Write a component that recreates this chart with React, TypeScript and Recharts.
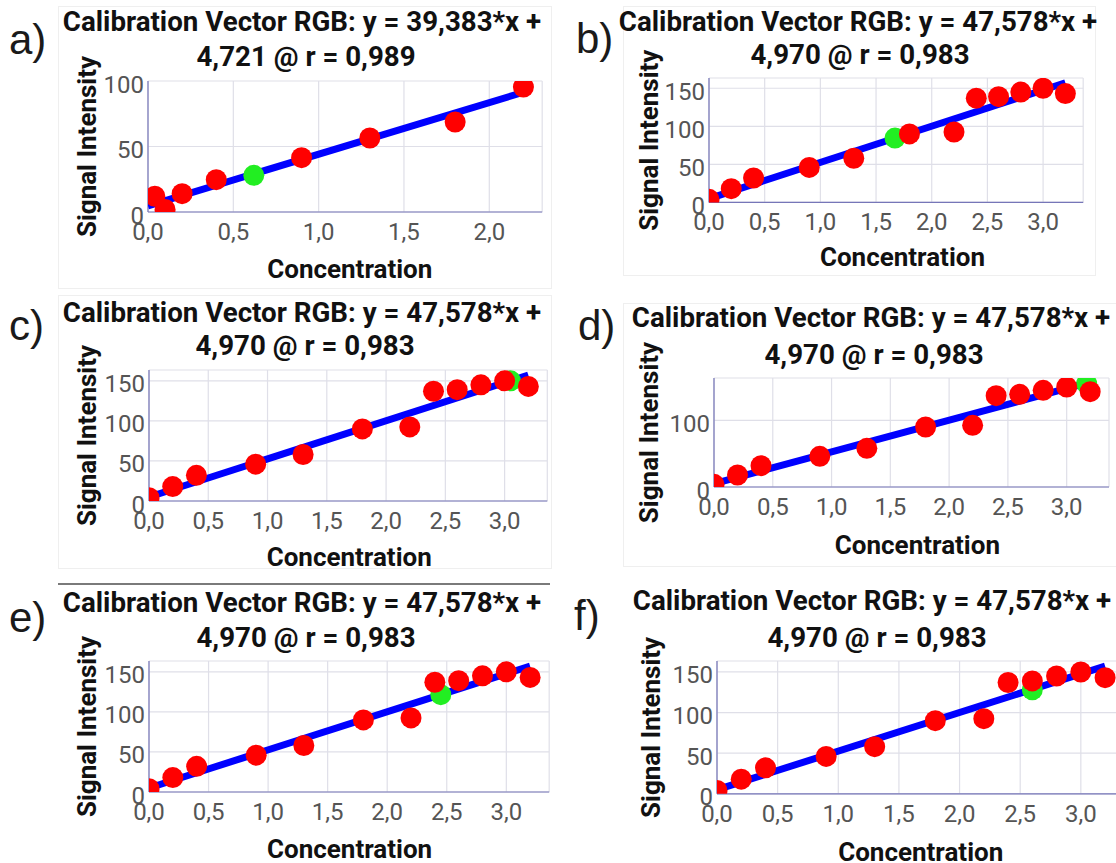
import { ScatterChart, Scatter, XAxis, YAxis, CartesianGrid, Label } from "recharts";

// values
const titleA = ["Calibration Vector RGB: y = 39,383*x +", "4,721 @ r = 0,989"];
const titleRest = ["Calibration Vector RGB: y = 47,578*x +", "4,970 @ r = 0,983"];
const panelLetters = ["a)", "b)", "c)", "d)", "e)", "f)"];

const concA = [0.04, 0.1, 0.2, 0.4, 0.9, 1.3, 1.8, 2.2];
const signalA = [12, 2, 14, 24.7, 41.5, 56.5, 68.7, 95.4];

const conc = [0, 0.2, 0.4, 0.9, 1.3, 1.8, 2.2, 2.4, 2.6, 2.8, 3.0, 3.2];
const signal = [4, 18, 32, 46, 58, 90, 92.5, 137, 139, 145, 150, 143];

// the green (sample) point of each panel, a..f
const greenConc = [0.62, 1.67, 3.05, 3.17, 2.45, 2.6];
const greenSignal = [28, 84.5, 150, 155, 121.5, 128];

// fit line end points
const fitConcA = [0, 2.2];
const fitSignalA = [4.7, 91.4];
const fitConc = [0, 3.2];
const fitSignal = [5.0, 157.2];

const xTicksA = [0, 0.5, 1, 1.5, 2];
const xTicks = [0, 0.5, 1, 1.5, 2, 2.5, 3];
const yTicksA = [0, 50, 100];
const yTicks = [0, 50, 100, 150];
const yTicksD = [0, 100];

const toPoints = (xs: number[], ys: number[]) => xs.map((x, i) => ({ x, y: ys[i] }));

const LAYOUT = [
  { plot: [147.5, 80.7, 394.2, 131], xMax: 2.31, yMax: 100, xt: xTicksA, yt: yTicksA, letter: [9, 54], t1: [302, 30.6], t2: [306, 65.6], yLab: 39.1, xDx: 4.7, xDy: 21.3 },
  { plot: [708.5, 78.3, 374.2, 124.4], xMax: 3.36, yMax: 163.5, xt: xTicks, yt: yTicks, letter: [576, 53.3], t1: [858, 30.7], t2: [860, 64], yLab: 39.9, xDx: 6.4, xDy: 19 },
  { plot: [148.7, 370, 398.3, 131], xMax: 3.36, yMax: 163.5, xt: xTicks, yt: yTicks, letter: [9, 340], t1: [302, 321.7], t2: [305, 355], yLab: 37.9, xDx: 1.1, xDy: 20.7 },
  { plot: [714, 378.3, 395, 109], xMax: 3.36, yMax: 163.5, xt: xTicks, yt: yTicksD, letter: [578, 340], t1: [871, 327.3], t2: [874, 364], yLab: 34.4, xDx: 5.9, xDy: 22.7 },
  { plot: [148.7, 660.7, 400.2, 131], xMax: 3.36, yMax: 163.5, xt: xTicks, yt: yTicks, letter: [9, 631.7], t1: [302, 611.7], t2: [306, 647.3], yLab: 37.9, xDx: 0.5, xDy: 21.6 },
  { plot: [717, 660.5, 407.5, 132.8], xMax: 3.36, yMax: 163.5, xt: xTicks, yt: yTicks, letter: [574, 630], t1: [872, 610], t2: [877, 646.7], yLab: 33.3, xDx: 0, xDy: 23 },
];

const fmt = (v: number) => v.toFixed(1).replace(".", ",");

const dot = (color: string) => (props: any) => (
  <circle cx={props.cx} cy={props.cy} r={10.5} fill={color} />
);

const axisStroke = { stroke: "#7676b8", strokeWidth: 1.2 };
const TOP = 60;
const BOTTOM = 20;

function Panel({ i }: { i: number }) {
  const L = LAYOUT[i];
  const [px, py, pw, ph] = L.plot;
  const red = i === 0 ? toPoints(concA, signalA) : toPoints(conc, signal);
  const fit = i === 0 ? toPoints(fitConcA, fitSignalA) : toPoints(fitConc, fitSignal);
  const green = [{ x: greenConc[i], y: greenSignal[i] }];

  return (
    <div style={{ position: "absolute", left: px - 100, top: py - TOP }}>
      <ScatterChart
        width={pw + 110}
        height={ph + TOP + 70 + BOTTOM}
        margin={{ top: TOP, right: 10, bottom: BOTTOM, left: 0 }}
      >
        <CartesianGrid stroke="#dfdfe8" strokeWidth={1.2} />
        <XAxis
          type="number"
          dataKey="x"
          domain={[0, L.xMax]}
          ticks={L.xt}
          interval={0}
          allowDataOverflow
          height={70}
          tickLine={false}
          tickSize={0}
          tickMargin={11}
          axisLine={axisStroke}
          tick={{ fontSize: 24, fill: "#555" }}
          tickFormatter={fmt}
        >
          <Label
            value="Concentration"
            position="center"
            dx={L.xDx}
            dy={L.xDy}
            fontSize={26}
            fontWeight={700}
            fill="#111"
          />
        </XAxis>
        <YAxis
          type="number"
          dataKey="y"
          domain={[0, L.yMax]}
          ticks={L.yt}
          interval={0}
          allowDataOverflow
          width={100}
          tickLine={false}
          tickSize={0}
          tickMargin={4}
          axisLine={axisStroke}
          tick={{ fontSize: 24, fill: "#555", dy: 3 }}
        >
          <Label
            value="Signal Intensity"
            angle={-90}
            position="center"
            dx={L.yLab - 50}
            fontSize={26}
            fontWeight={700}
            fill="#111"
          />
        </YAxis>
        <Scatter
          data={fit}
          line={{ stroke: "#0000ff", strokeWidth: 7 }}
          shape={() => <g />}
          isAnimationActive={false}
        />
        <Scatter data={green} fill="#22ee22" shape={dot("#22ee22")} isAnimationActive={false} />
        <Scatter data={red} fill="#ff0000" shape={dot("#ff0000")} isAnimationActive={false} />
      </ScatterChart>
    </div>
  );
}

export default function App() {
  return (
    <div
      style={{
        position: "absolute",
        left: 0,
        top: 0,
        width: 1116,
        height: 863,
        overflow: "hidden",
        background: "#fff",
        fontFamily: "Roboto, sans-serif",
      }}
    >
      {/* faint screenshot frames */}
      <div style={{ position: "absolute", left: 58, top: 6, width: 492, height: 281, border: "1px solid #efefef" }} />
      <div style={{ position: "absolute", left: 623, top: 6, width: 471, height: 268, border: "1px solid #efefef" }} />
      <div style={{ position: "absolute", left: 58, top: 295, width: 492, height: 272, border: "1px solid #efefef" }} />
      <div style={{ position: "absolute", left: 623, top: 303, width: 500, height: 262, border: "1px solid #efefef" }} />
      <div style={{ position: "absolute", left: 58, top: 583, width: 492, height: 2, background: "#7a7a7a" }} />

      {LAYOUT.map((_, i) => (
        <Panel key={i} i={i} />
      ))}

      <svg
        width={1116}
        height={863}
        style={{ position: "absolute", left: 0, top: 0, pointerEvents: "none" }}
      >
        {LAYOUT.map((L, i) => {
          const t = i === 0 ? titleA : titleRest;
          return (
            <g key={i}>
              <text
                x={L.letter[0]}
                y={L.letter[1]}
                fontFamily="'Liberation Sans', Arial, sans-serif"
                fontSize={42}
                fill="#1a1a1a"
              >
                {panelLetters[i]}
              </text>
              <text x={L.t1[0]} y={L.t1[1]} textAnchor="middle" fontFamily="Roboto" fontWeight={700} fontSize={27.7} fill="#111">
                {t[0]}
              </text>
              <text x={L.t2[0]} y={L.t2[1]} textAnchor="middle" fontFamily="Roboto" fontWeight={700} fontSize={27.7} fill="#111">
                {t[1]}
              </text>
            </g>
          );
        })}
      </svg>
    </div>
  );
}
